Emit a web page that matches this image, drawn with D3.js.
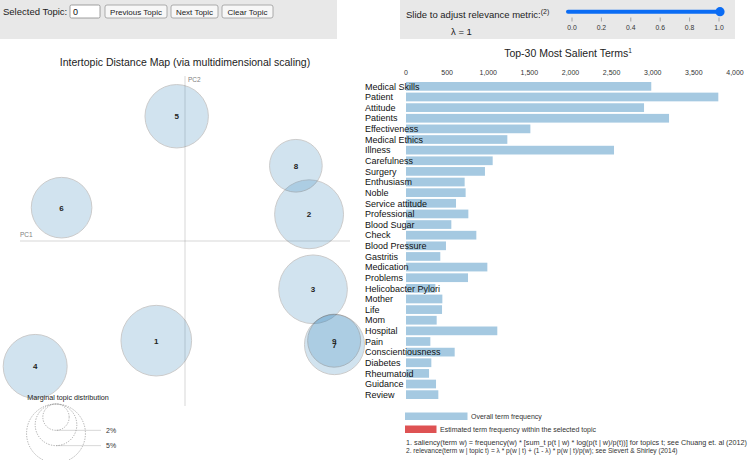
<!doctype html>
<html>
<head>
<meta charset="utf-8">
<title>LDAvis - Intertopic Distance Map</title>
<script src="https://d3js.org/d3.v7.min.js"></script>
<style>
  body { margin: 0; background: #fff; }
  svg text { font-family: "Liberation Sans", Arial, Helvetica, sans-serif; }
</style>
</head>
<body>
<div id="vis"></div>
<script>

// topic data (MDS coordinates on PC1 / PC2, marginal share in %)
var topicIds = [1, 2, 3, 4, 5, 6, 7, 8, 9];
var topicPC1 = [-0.0435, 0.188, 0.194, -0.227, -0.0126, -0.187, 0.2265, 0.168, 0.226];
var topicPC2 = [-0.151, 0.0405, -0.0732, -0.190, 0.189, 0.0505, -0.157, 0.114, -0.151];
var topicFreq = [14.4, 13.7, 13.6, 11.8, 11.6, 10.6, 10.4, 8.0, 8.1];

// top-30 salient terms and overall frequency
var terms = ["Medical Skills", "Patient", "Attitude", "Patients", "Effectiveness",
  "Medical Ethics", "Illness", "Carefulness", "Surgery", "Enthusiasm", "Noble",
  "Service attitude", "Professional", "Blood Sugar", "Check", "Blood Pressure",
  "Gastritis", "Medication", "Problems", "Helicobacter Pylori", "Mother", "Life",
  "Mom", "Hospital", "Pain", "Conscientiousness", "Diabetes", "Rheumatoid",
  "Guidance", "Review"];
var termFreq = [2982, 3797, 2894, 3198, 1512, 1232, 2529, 1054, 960, 713, 725,
  608, 758, 551, 855, 486, 417, 989, 754, 357, 442, 438, 373, 1110, 296, 592,
  308, 280, 365, 393];

var freqTicks = [0, 500, 1000, 1500, 2000, 2500, 3000, 3500, 4000];
var lambdaTicks = [0, 0.2, 0.4, 0.6, 0.8, 1.0];
var lambdaValue = 1;
var guidePcts = [2, 5, 10];

var color1 = "#1f77b4", color2 = "#d62728";

var W = 750, H = 460;
var svg = d3.select("#vis").append("svg")
    .attr("width", W)
    .attr("height", H);

// ---------- top controls ----------
var ctl = svg.append("g");
ctl.append("rect").attr("x", 0).attr("y", 0).attr("width", 337).attr("height", 39).attr("fill", "#e8e8e8");
ctl.append("text").attr("x", 3).attr("y", 15).style("font-size", "9.5px").attr("fill", "#222").text("Selected Topic:");
ctl.append("rect").attr("x", 70).attr("y", 5).attr("width", 30).attr("height", 13)
    .attr("fill", "#fff").attr("stroke", "#888").attr("stroke-width", 0.8).attr("rx", 1.5);
ctl.append("text").attr("x", 73).attr("y", 15).style("font-size", "9px").attr("fill", "#111").text("0");

var buttons = [{t: "Previous Topic", x: 105, w: 62}, {t: "Next Topic", x: 171, w: 47}, {t: "Clear Topic", x: 222, w: 51}];
buttons.forEach(function(b) {
  ctl.append("rect").attr("x", b.x).attr("y", 5).attr("width", b.w).attr("height", 13)
      .attr("fill", "#f7f7f7").attr("stroke", "#999").attr("stroke-width", 0.8).attr("rx", 2);
  ctl.append("text").attr("x", b.x + b.w / 2).attr("y", 14.8).attr("text-anchor", "middle")
      .style("font-size", "8px").attr("fill", "#222").text(b.t);
});

var rctl = svg.append("g");
rctl.append("rect").attr("x", 400).attr("y", 0).attr("width", 335).attr("height", 39).attr("fill", "#e8e8e8");
var slideLbl = rctl.append("text").attr("x", 406).attr("y", 18).style("font-size", "9.5px").attr("fill", "#222");
slideLbl.append("tspan").text("Slide to adjust relevance metric:");
slideLbl.append("tspan").attr("dy", -4).style("font-size", "7px").text("(2)");
rctl.append("text").attr("x", 451).attr("y", 35).style("font-size", "9.5px").attr("fill", "#222")
    .text("\u03bb = " + lambdaValue);

var ls = d3.scaleLinear().domain([0, 1]).range([572, 719]);
rctl.append("line").attr("x1", ls(0) - 4).attr("x2", ls(lambdaValue)).attr("y1", 11.7).attr("y2", 11.7)
    .attr("stroke", "#0b6cf4").attr("stroke-width", 4).attr("stroke-linecap", "round");
rctl.append("circle").attr("cx", ls(lambdaValue) + 1).attr("cy", 11.7).attr("r", 4.6).attr("fill", "#0b6cf4");
rctl.selectAll(".ltick").data(lambdaTicks).enter().append("line")
    .attr("x1", ls).attr("x2", ls).attr("y1", 17.5).attr("y2", 21.5)
    .attr("stroke", "#888").attr("stroke-width", 0.7);
rctl.selectAll(".llab").data(lambdaTicks).enter().append("text")
    .attr("x", ls).attr("y", 30).attr("text-anchor", "middle")
    .style("font-size", "6.8px").attr("fill", "#333")
    .text(function(d) { return d3.format(".1f")(d); });

// ---------- left panel: intertopic distance map ----------
var mdsX0 = 20, mdsY0 = 76, mdsSize = 330;
var xs = d3.scaleLinear().domain([-0.25, 0.25]).range([mdsX0, mdsX0 + mdsSize]);
var ys = d3.scaleLinear().domain([-0.25, 0.25]).range([mdsY0 + mdsSize, mdsY0]);
var rOf = function(f) { return Math.sqrt((f / 100) * mdsSize * mdsSize * 0.25 / Math.PI); };

svg.append("text").attr("x", 185).attr("y", 65.5).attr("text-anchor", "middle")
    .style("font-size", "10.5px").attr("fill", "#222")
    .text("Intertopic Distance Map (via multidimensional scaling)");

svg.append("line").attr("x1", mdsX0).attr("x2", mdsX0 + mdsSize).attr("y1", ys(0)).attr("y2", ys(0))
    .attr("stroke", "gray").attr("opacity", 0.3);
svg.append("line").attr("x1", xs(0)).attr("x2", xs(0)).attr("y1", mdsY0).attr("y2", mdsY0 + mdsSize)
    .attr("stroke", "gray").attr("opacity", 0.3);
svg.append("text").attr("x", mdsX0).attr("y", ys(0) - 4).style("font-size", "6.5px").attr("fill", "gray").text("PC1");
svg.append("text").attr("x", xs(0) + 3).attr("y", mdsY0 + 6).style("font-size", "6.5px").attr("fill", "gray").text("PC2");

var topics = topicIds.map(function(id, i) {
  return {id: id, x: topicPC1[i], y: topicPC2[i], freq: topicFreq[i]};
});

svg.selectAll(".dot").data(topics).enter().append("circle")
    .attr("class", "dot")
    .attr("cx", function(d) { return xs(d.x); })
    .attr("cy", function(d) { return ys(d.y); })
    .attr("r", function(d) { return rOf(d.freq); })
    .style("fill", color1)
    .attr("stroke", "black")
    .style("opacity", 0.2);

svg.selectAll(".txt").data(topics).enter().append("text")
    .attr("class", "txt")
    .attr("x", function(d) { return xs(d.x); })
    .attr("y", function(d) { return ys(d.y) + 3; })
    .attr("text-anchor", "middle")
    .style("font-size", "8px").style("font-weight", "bold").attr("fill", "#222")
    .text(function(d) { return d.id; });

// circle guide (marginal topic distribution)
var guideTop = 404, guideCx = 56, guideCx2 = 101;
svg.append("text").attr("x", 68).attr("y", 400).attr("text-anchor", "middle")
    .style("font-size", "7.2px").attr("fill", "#222").text("Marginal topic distribution");
guidePcts.forEach(function(p) {
  var r = rOf(p);
  svg.append("circle").attr("cx", guideCx).attr("cy", guideTop + r).attr("r", r)
      .style("fill", "none").style("stroke", "#999").style("stroke-dasharray", "1.3 1.3").style("stroke-width", 0.8);
  svg.append("line").attr("x1", guideCx).attr("x2", guideCx2)
      .attr("y1", guideTop + 2 * r).attr("y2", guideTop + 2 * r)
      .style("stroke", "gray").style("opacity", 0.3);
  // labels below the window edge are not shown
  if (guideTop + 2 * r + 2.5 < H - 2) {
    svg.append("text").attr("x", guideCx2 + 5).attr("y", guideTop + 2 * r + 2.5)
        .style("font-size", "7px").attr("fill", "#333").text(p + "%");
  }
});

// ---------- right panel: bar chart ----------
var bx = d3.scaleLinear().domain([0, 4000]).range([406, 735]);
var by = d3.scaleBand().domain(terms).range([82, 399]).paddingInner(0.18);

var tt = svg.append("text").attr("x", 568).attr("y", 57).attr("text-anchor", "middle")
    .style("font-size", "10.5px").attr("fill", "#222");
tt.append("tspan").text("Top-30 Most Salient Terms");
tt.append("tspan").attr("dy", -4).style("font-size", "6.5px").text("1");

svg.selectAll(".xlab").data(freqTicks).enter().append("text")
    .attr("x", bx).attr("y", 74.5).attr("text-anchor", "middle")
    .style("font-size", "7px").attr("fill", "#333")
    .text(d3.format(","));

var rows = terms.map(function(t, i) { return {term: t, total: termFreq[i]}; });

svg.selectAll(".bar-totals").data(rows).enter().append("rect")
    .attr("class", "bar-totals")
    .attr("x", bx(0))
    .attr("y", function(d) { return by(d.term); })
    .attr("width", function(d) { return bx(d.total) - bx(0); })
    .attr("height", by.bandwidth())
    .style("fill", color1)
    .attr("opacity", 0.4);

svg.selectAll(".terms").data(rows).enter().append("text")
    .attr("class", "terms")
    .attr("x", 365)
    .attr("y", function(d) { return by(d.term) + by.bandwidth() / 2; })
    .attr("dy", "0.36em")
    .style("font-size", "9px").attr("fill", "#111")
    .text(function(d) { return d.term; });

// legend + footnotes
svg.append("rect").attr("x", 405).attr("y", 412.5).attr("width", 62.5).attr("height", 7.5)
    .style("fill", color1).attr("opacity", 0.4);
svg.append("text").attr("x", 471).attr("y", 418.5).style("font-size", "7px").attr("fill", "#333")
    .text("Overall term frequency");
svg.append("rect").attr("x", 405).attr("y", 425.5).attr("width", 31.5).attr("height", 7.5)
    .style("fill", color2).attr("opacity", 0.8);
svg.append("text").attr("x", 440).attr("y", 431.5).style("font-size", "7px").attr("fill", "#333")
    .text("Estimated term frequency within the selected topic");
svg.append("text").attr("x", 406).attr("y", 445).style("font-size", "7px").attr("fill", "#333")
    .attr("textLength", 341).attr("lengthAdjust", "spacingAndGlyphs")
    .text("1. saliency(term w) = frequency(w) * [sum_t p(t | w) * log(p(t | w)/p(t))] for topics t; see Chuang et. al (2012)");
svg.append("text").attr("x", 406).attr("y", 452.8).style("font-size", "6.6px").attr("fill", "#333")
    .text("2. relevance(term w | topic t) = \u03bb * p(w | t) + (1 - \u03bb) * p(w | t)/p(w); see Sievert & Shirley (2014)");

</script>
</body>
</html>
